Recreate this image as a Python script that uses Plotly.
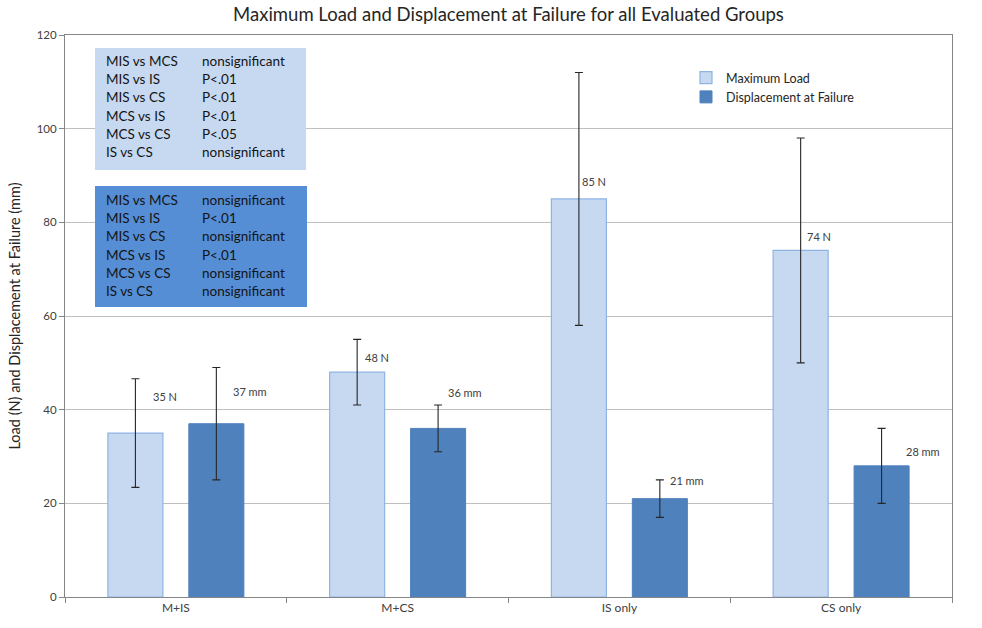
import plotly.graph_objects as go

categories = ["M+IS", "M+CS", "IS only", "CS only"]
load_values = [35, 48, 85, 74]
load_errors = [11.6, 7, 27, 24]
disp_values = [37, 36, 21, 28]
disp_errors = [12, 5, 4, 8]
load_labels = ["35 N", "48 N", "85 N", "74 N"]
disp_labels = ["37 mm", "36 mm", "21 mm", "28 mm"]
comparisons = ["MIS vs MCS", "MIS vs IS", "MIS vs CS", "MCS vs IS", "MCS vs CS", "IS vs CS"]
load_significance = ["nonsignificant", "P<.01", "P<.01", "P<.01", "P<.05", "nonsignificant"]
disp_significance = ["nonsignificant", "P<.01", "nonsignificant", "P<.01", "nonsignificant", "nonsignificant"]

# style (pixel offsets for the data labels)
load_label_dx = [-25, -35, -39, -36]
load_label_dy = [37, 15, 17, 14]
disp_label_dx = [55, 48, 49, 63]
disp_label_dy = [32, 36, 18, 14]

FONT = "Lato"
W, H = 982, 628
L, R, T, B = 65, 30, 35, 31
PW, PH = W - L - R, H - T - B

def px(x):
    return (x - L) / PW

def py(y):
    return (H - B - y) / PH

fig = go.Figure()
fig.add_trace(go.Bar(
    x=categories, y=load_values, name="Maximum Load",
    marker=dict(color="#C6D9F1", line=dict(color="#8EB4E3", width=1.2)),
    error_y=dict(type="data", array=load_errors, color="#262626", thickness=1.1, width=4),
))
fig.add_trace(go.Bar(
    x=categories, y=disp_values, name="Displacement at Failure",
    marker=dict(color="#4F81BD", line=dict(color="#4F81BD", width=1)),
    error_y=dict(type="data", array=disp_errors, color="#262626", thickness=1.1, width=4),
))

annotations = []
for i, c in enumerate(categories):
    annotations.append(dict(x=c, y=load_values[i], xref="x", yref="y", text=load_labels[i],
                            showarrow=False, xanchor="left", yanchor="middle",
                            xshift=load_label_dx[i], yshift=load_label_dy[i],
                            font=dict(family=FONT, size=11, color="#404040")))
    annotations.append(dict(x=c, y=disp_values[i], xref="x", yref="y", text=disp_labels[i],
                            showarrow=False, xanchor="left", yanchor="middle",
                            xshift=disp_label_dx[i], yshift=disp_label_dy[i],
                            font=dict(family=FONT, size=11, color="#404040")))

shapes = [
    dict(type="rect", xref="paper", yref="paper", x0=px(95), x1=px(306), y0=py(170), y1=py(48),
         fillcolor="#C6D9F1", line=dict(width=0), layer="above"),
    dict(type="rect", xref="paper", yref="paper", x0=px(95), x1=px(307), y0=py(307), y1=py(186),
         fillcolor="#558ED5", line=dict(width=0), layer="above"),
]

for j, comp in enumerate(comparisons):
    for top, sig in ((61, load_significance), (200, disp_significance)):
        yy = py(top + j * 18.2)
        annotations.append(dict(x=px(104), y=yy, xref="paper", yref="paper", text=comp,
                                showarrow=False, xanchor="left", yanchor="middle",
                                font=dict(family=FONT, size=13.5, color="#141414")))
        annotations.append(dict(x=px(200), y=yy, xref="paper", yref="paper", text=sig[j],
                                showarrow=False, xanchor="left", yanchor="middle",
                                font=dict(family=FONT, size=13.5, color="#141414")))

fig.update_layout(
    width=W, height=H,
    margin=dict(l=L, r=R, t=T, b=B),
    paper_bgcolor="white", plot_bgcolor="white",
    barmode="group", bargap=0.27, bargroupgap=0.32,
    title=dict(text="Maximum Load and Displacement at Failure for all Evaluated Groups",
               x=0.5, xref="paper", y=1 - 15 / H, yanchor="middle",
               font=dict(family=FONT, size=18.5, color="#262626")),
    legend=dict(x=px(686), y=py(63), xanchor="left", yanchor="top",
                font=dict(family=FONT, size=12.5, color="#262626"),
                itemwidth=30, bgcolor="rgba(0,0,0,0)"),
    annotations=annotations,
    shapes=shapes,
    showlegend=True,
)
fig.update_yaxes(range=[0, 120], dtick=20, showgrid=True, gridcolor="#BFBFBF", gridwidth=1,
                 ticks="outside", ticklen=5, tickcolor="#868686",
                 showline=True, linecolor="#868686", mirror=True, zeroline=False,
                 tickfont=dict(family=FONT, size=11.5, color="#404040"),
                 title=dict(text="Load (N) and Displacement at Failure (mm)", standoff=12,
                            font=dict(family=FONT, size=14.5, color="#262626")))
fig.update_xaxes(ticks="outside", tickson="boundaries", ticklen=5, tickcolor="#868686",
                 showline=True, linecolor="#868686", mirror=True,
                 tickfont=dict(family=FONT, size=12, color="#404040"))

fig.write_html("out.html", config={"displayModeBar": False},
               post_script="document.body.style.margin='0px';")
